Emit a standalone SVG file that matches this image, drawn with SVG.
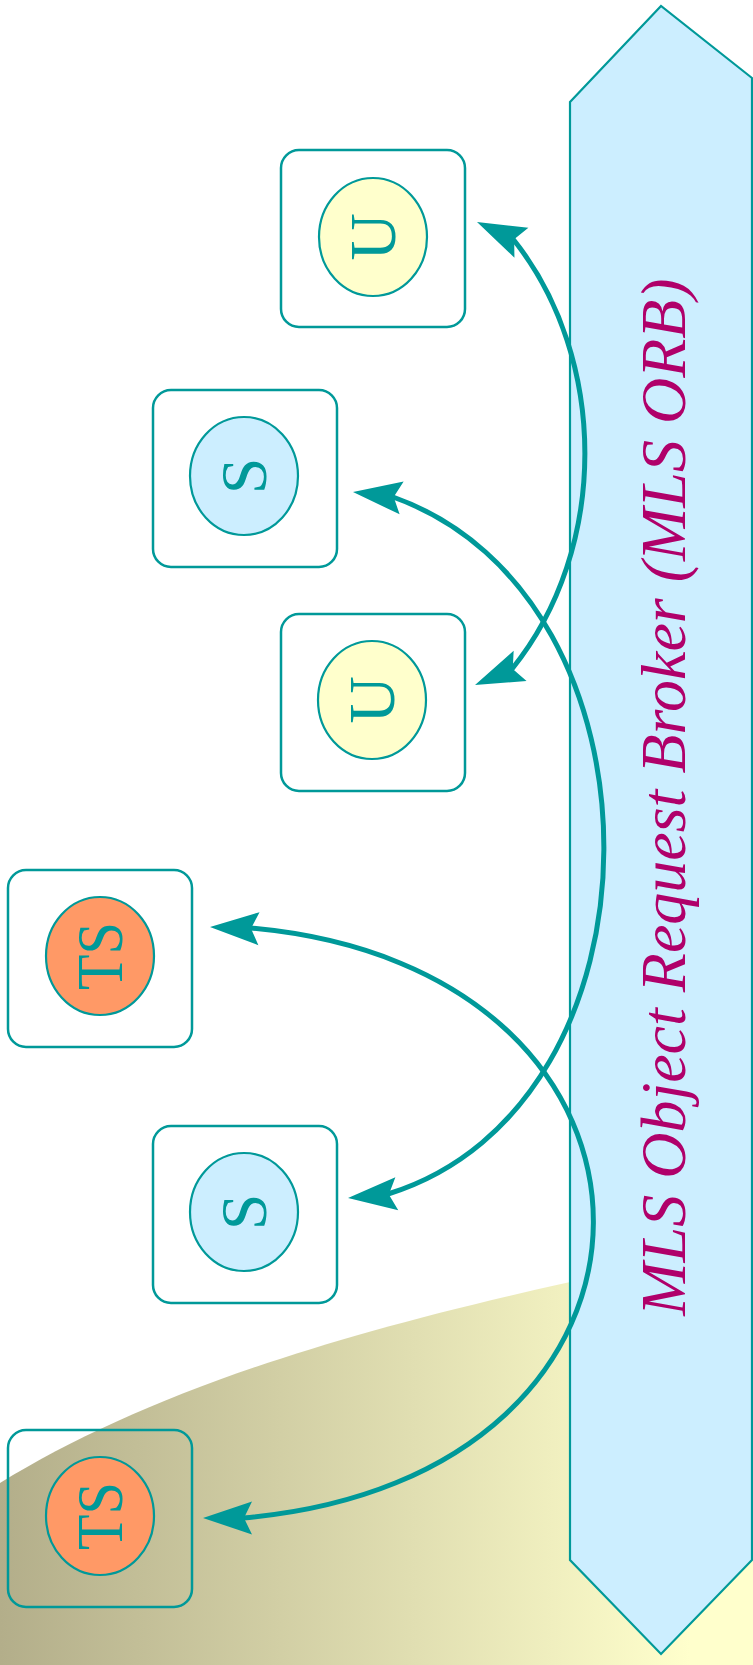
<svg xmlns="http://www.w3.org/2000/svg" xmlns:xlink="http://www.w3.org/1999/xlink" width="753" height="1665" viewBox="0 0 753 1665">
<style>
.box{fill:none;stroke:#009999;stroke-width:2.5}
.u{fill:#ffffcc;stroke:#009999;stroke-width:2.2}
.s{fill:#cceeff;stroke:#009999;stroke-width:2.2}
.ts{fill:#ff9966;stroke:#009999;stroke-width:2.2}
.lbl{font-family:"Liberation Serif","Times New Roman",serif;font-size:66px;fill:#009999;text-anchor:middle}
.conn{fill:none;stroke:#009999;stroke-width:5}
.arr{fill:#009999}
.title{font-family:"Liberation Serif","Times New Roman",serif;font-style:italic;font-size:64px;fill:#b0006a;text-anchor:middle}
</style>
<defs>
<linearGradient id="bg" x1="0" y1="0" x2="690" y2="0" gradientUnits="userSpaceOnUse">
<stop offset="0" stop-color="#b3ae8a"/>
<stop offset="1" stop-color="#ffffcc"/>
</linearGradient>
<path id="ah" d="M0,0 L49,-16.5 L41,0 L49,16.5 Z"/>
</defs>
<rect width="753" height="1665" fill="#ffffff"/>
<path d="M0,1483 C160,1385 380,1315 753,1245 L753,1665 L0,1665 Z" fill="url(#bg)"/>
<g id="orb">
<polygon points="570,102 661,6 752,78 752,1560 661,1654 570,1560" fill="#cceeff" stroke="#009999" stroke-width="2.2"/>
<text class="title" transform="translate(685,797) rotate(-90)" x="0" y="0">MLS Object Request Broker (MLS ORB)</text>
</g>
<g id="u1">
<rect class="box" x="281" y="150" width="184" height="177" rx="18"/>
<ellipse class="u" cx="373" cy="237" rx="54" ry="59"/>
<text class="lbl" transform="translate(373,237) rotate(-90)" x="0" y="22">U</text>
</g>
<g id="s1">
<rect class="box" x="153" y="390" width="184" height="177" rx="18"/>
<ellipse class="s" cx="244" cy="476" rx="54" ry="59"/>
<text class="lbl" transform="translate(244,476) rotate(-90)" x="0" y="22">S</text>
</g>
<g id="u2">
<rect class="box" x="281" y="614" width="184" height="177" rx="18"/>
<ellipse class="u" cx="372" cy="700" rx="54" ry="59"/>
<text class="lbl" transform="translate(372,700) rotate(-90)" x="0" y="22">U</text>
</g>
<g id="ts1">
<rect class="box" x="8" y="870" width="184" height="177" rx="18"/>
<ellipse class="ts" cx="100" cy="956" rx="54" ry="59"/>
<text class="lbl" transform="translate(100,956) rotate(-90)" x="0" y="22" textLength="68" lengthAdjust="spacingAndGlyphs">TS</text>
</g>
<g id="s2">
<rect class="box" x="153" y="1126" width="184" height="177" rx="18"/>
<ellipse class="s" cx="244" cy="1212" rx="54" ry="59"/>
<text class="lbl" transform="translate(244,1212) rotate(-90)" x="0" y="22">S</text>
</g>
<g id="ts2">
<rect class="box" x="8" y="1430" width="184" height="177" rx="18"/>
<ellipse class="ts" cx="100" cy="1516" rx="54" ry="59"/>
<text class="lbl" transform="translate(100,1516) rotate(-90)" x="0" y="22" textLength="68" lengthAdjust="spacingAndGlyphs">TS</text>
</g>
<g id="connectors">
<path class="conn" d="M513,239 C609,359 609,549 512,669"/>
<path class="conn" d="M393,497 C675,597 675,1105 388,1194"/>
<path class="conn" d="M250,928 C709,968 709,1478 243,1518"/>
<use xlink:href="#ah" class="arr" transform="translate(477,222) rotate(25)"/>
<use xlink:href="#ah" class="arr" transform="translate(475,685) rotate(-23)"/>
<use xlink:href="#ah" class="arr" transform="translate(353,492) rotate(7)"/>
<use xlink:href="#ah" class="arr" transform="translate(348,1198) rotate(-5)"/>
<use xlink:href="#ah" class="arr" transform="translate(210,927) rotate(2)"/>
<use xlink:href="#ah" class="arr" transform="translate(203,1518) rotate(0)"/>
</g>
</svg>
